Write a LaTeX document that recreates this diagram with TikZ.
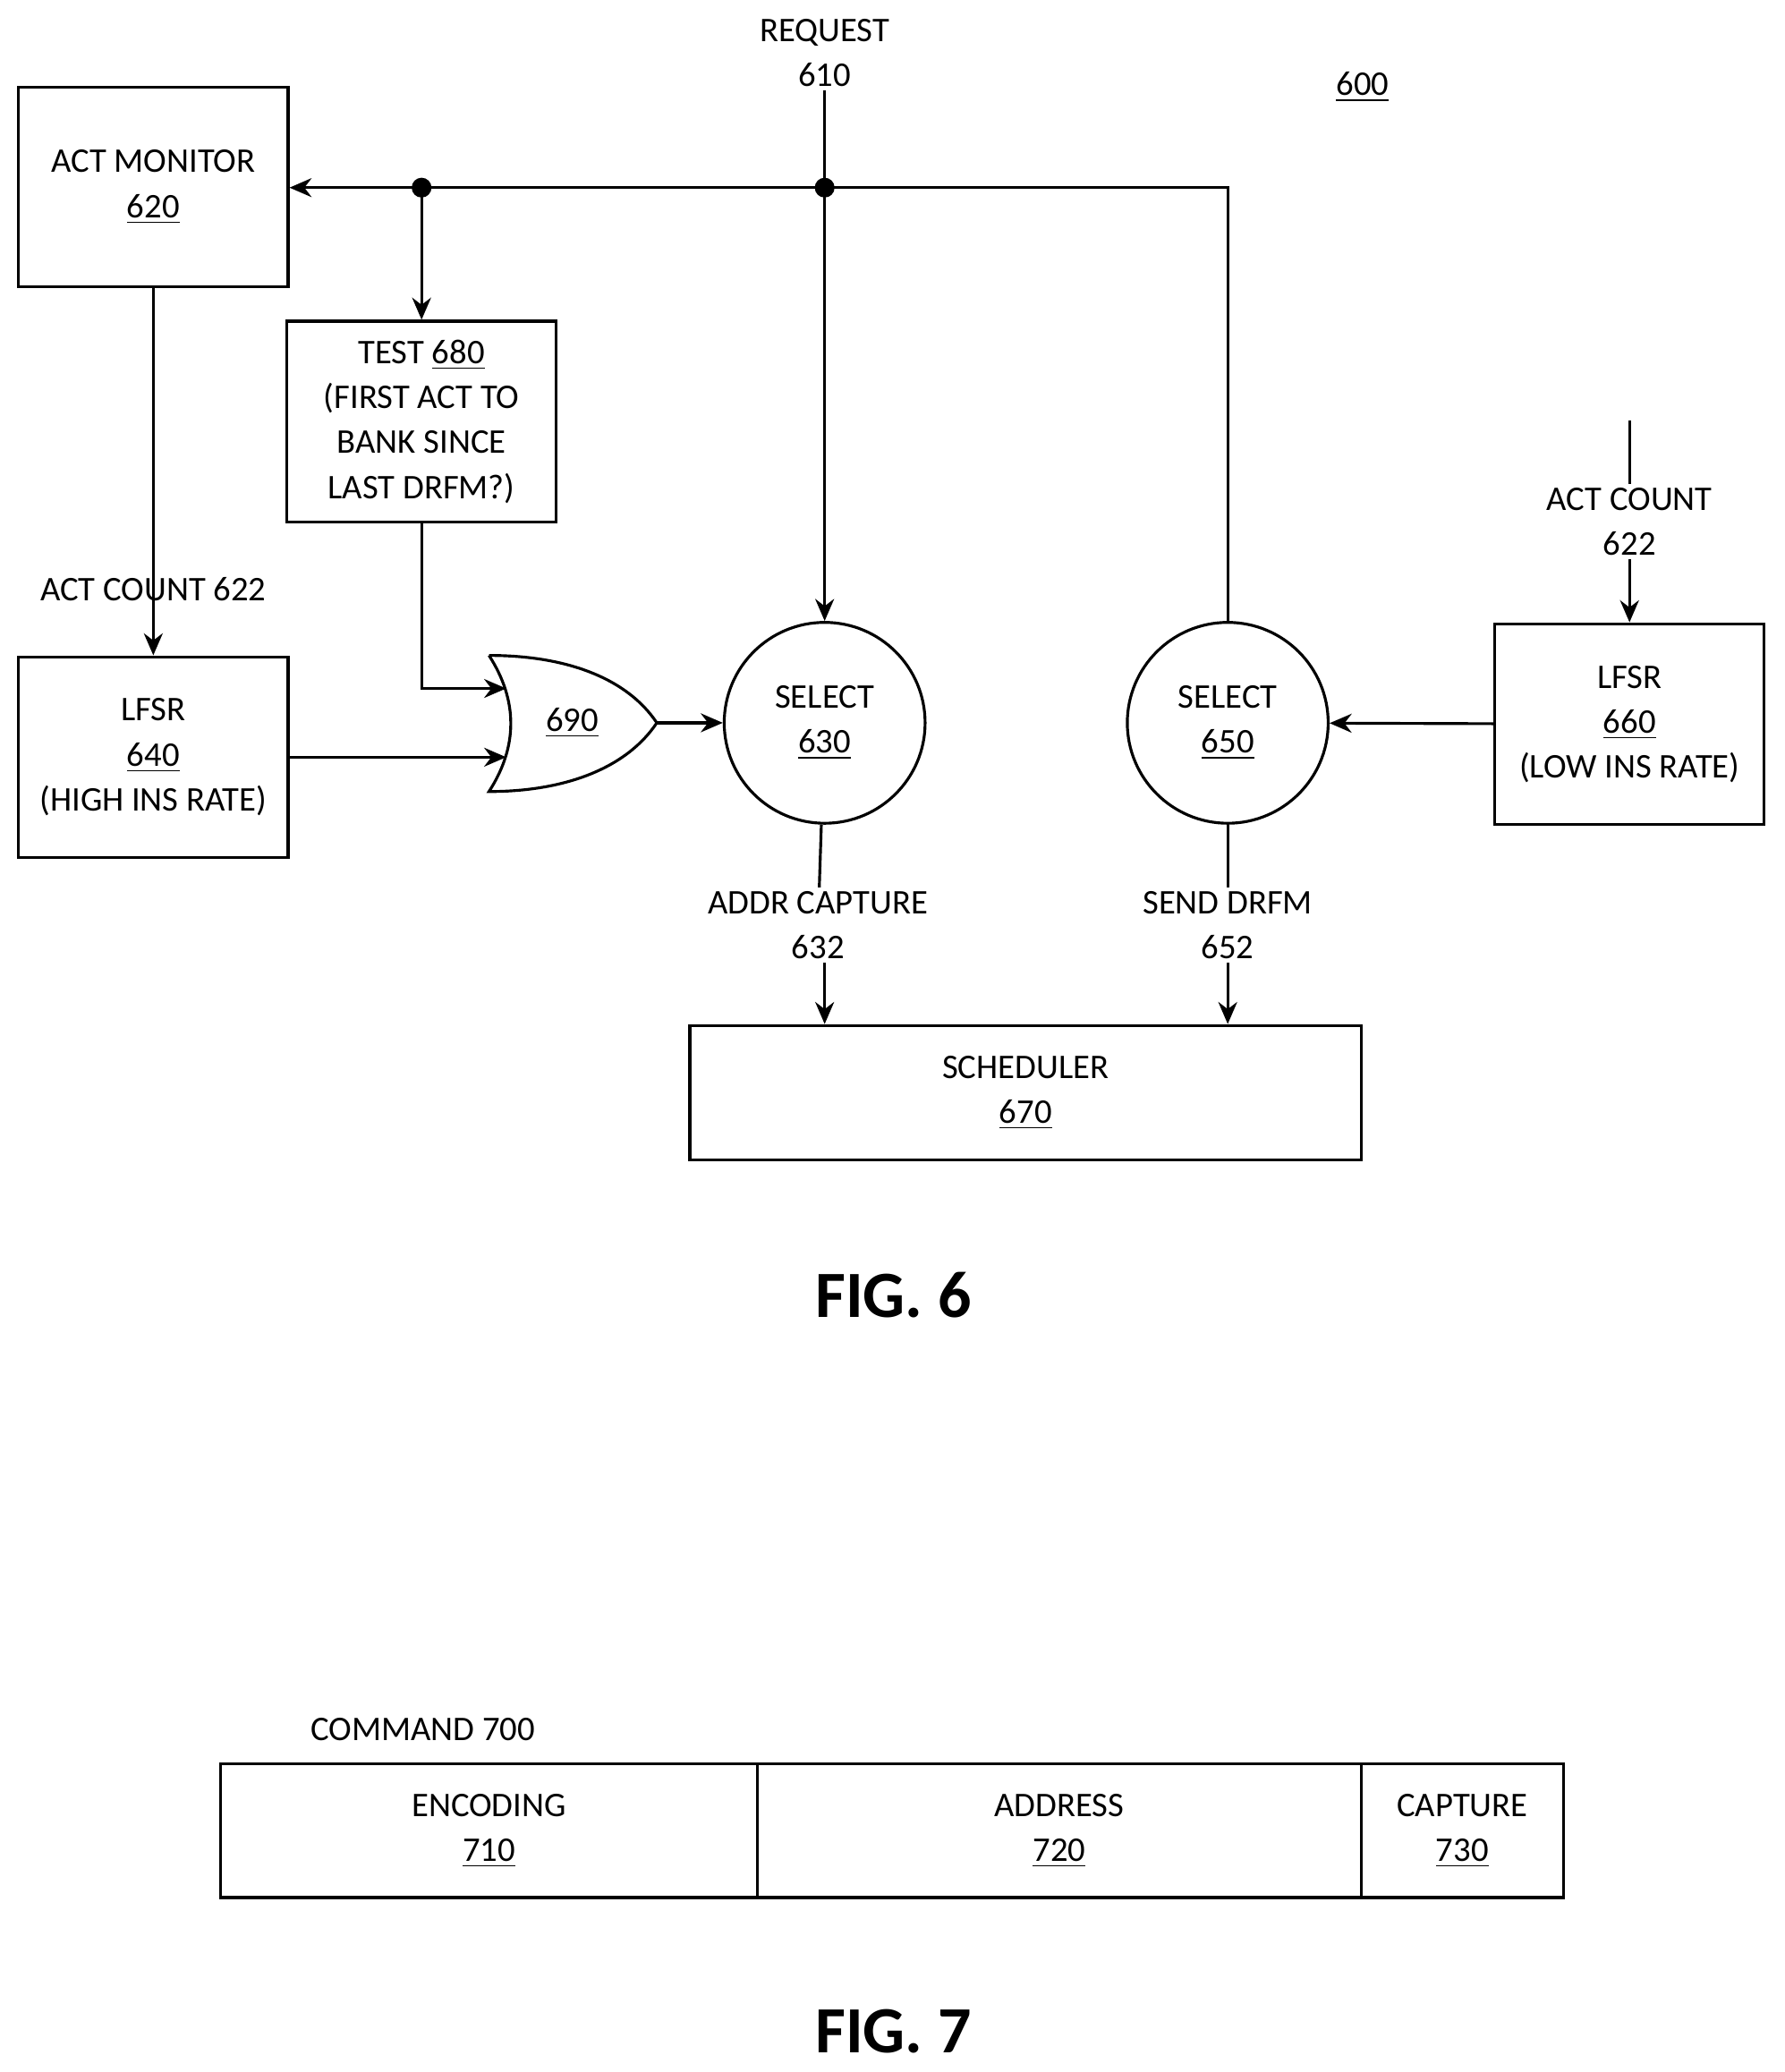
\documentclass[tikz,border=0pt]{standalone}
\usepackage{fontspec}
\setmainfont{Carlito}
\usetikzlibrary{arrows.meta}
\tikzset{
  blk/.style={draw, line width=0.9pt, inner sep=0pt, align=center, font=\fontsize{11}{14.3}\selectfont},
  sel/.style={draw, circle, line width=0.9pt, minimum size=152*0.01477cm, inner sep=0pt, align=center, font=\fontsize{11}{14.3}\selectfont},
  lbl/.style={align=center, inner sep=1pt, font=\fontsize{11}{14.3}\selectfont},
  wire/.style={line width=0.9pt},
  arr/.style={wire, -{Stealth[length=7pt,width=6pt]}},
  fig/.style={font=\fontsize{21}{24}\selectfont\bfseries}
}
\begin{document}
\begin{tikzpicture}[x=0.01477cm, y=-0.01477cm]
  \useasboundingbox (0,0) rectangle (1350,1568);
  % boxes
  \node[blk, minimum width=204*0.01477cm, minimum height=151*0.01477cm] (620) at (116,141.5) {ACT MONITOR\\\underline{620}};
  \node[blk, minimum width=204*0.01477cm, minimum height=152*0.01477cm] (680) at (319,319) {TEST \underline{680}\\(FIRST ACT TO\\BANK SINCE\\LAST DRFM?)};
  \node[blk, minimum width=204*0.01477cm, minimum height=152*0.01477cm] (640) at (116,573) {LFSR\\\underline{640}\\(HIGH INS RATE)};
  \node[blk, minimum width=204*0.01477cm, minimum height=152*0.01477cm] (660) at (1233,548) {LFSR\\\underline{660}\\(LOW INS RATE)};
  \node[blk, minimum width=508*0.01477cm, minimum height=102*0.01477cm] (670) at (776,827) {SCHEDULER\\\underline{670}};
  \node[sel] (630) at (624,547) {SELECT\\\underline{630}};
  \node[sel] (650) at (929,547) {SELECT\\\underline{650}};

  % or gate 690
  \draw[wire] (370,496) .. controls (392,530) and (392,565) .. (370,599)
    .. controls (430,599) and (475,580) .. (497,547)
    .. controls (475,514) and (430,496) .. (370,496);
  \node[lbl] (690) at (433,547) {\underline{690}};
  \coordinate (orin1) at (383,521);
  \coordinate (orin2) at (383,573);
  \coordinate (orout) at (497,547);

  % labels
  \node[lbl] (610) at (624,40) {REQUEST\\610};
  \node[lbl] (600) at (1031,66) {\underline{600}};
  \node[lbl, fill=white] (622a) at (116,446) {ACT COUNT 622};
  \node[lbl] (622b) at (1233,395) {ACT COUNT\\622};
  \node[lbl] (632) at (619,700) {ADDR CAPTURE\\632};
  \node[lbl] (652) at (929,700) {SEND DRFM\\652};
  \coordinate (dotA) at (319,142);
  \coordinate (dotB) at (624,142);
  \coordinate (top622) at (1233,318);

  % connectors
  \draw[arr] (929,471) -- (929,142) -- (620.east |- 0,142);
  \draw[arr] (610) -- (630);
  \draw[arr] (dotA) -- (680);
  \fill (dotA) circle (7.5);
  \fill (dotB) circle (7.5);
  \draw[arr] (680) |- (orin1);
  \draw[arr] (640.east |- orin2) -- (orin2);
  \draw[arr] (orout) -- (630);
  \draw[arr] (620) -- (640);
  \draw[arr] (660) -- (650);
  \draw[wire] (top622) -- (622b.north);
  \draw[arr] (622b) -- (660);
  \draw[wire] (630) -- (632);
  \draw[wire] (650) -- (652);
  \draw[arr] (632.south -| 630) -- (670.north -| 630);
  \draw[arr] (652) -- (670.north -| 650);

  \node[fig] (f6) at (676,980) {FIG. 6};

  % command 700
  \node[lbl] (700) at (320,1309) {COMMAND 700};
  \node[blk, minimum width=406*0.01477cm, minimum height=101*0.01477cm] (710) at (370,1385.5) {ENCODING\\\underline{710}};
  \node[blk, minimum width=457*0.01477cm, minimum height=101*0.01477cm] (720) at (801.5,1385.5) {ADDRESS\\\underline{720}};
  \node[blk, minimum width=153*0.01477cm, minimum height=101*0.01477cm] (730) at (1106.5,1385.5) {CAPTURE\\\underline{730}};
  \node[fig] (f7) at (676,1537) {FIG. 7};
\end{tikzpicture}
\end{document}
